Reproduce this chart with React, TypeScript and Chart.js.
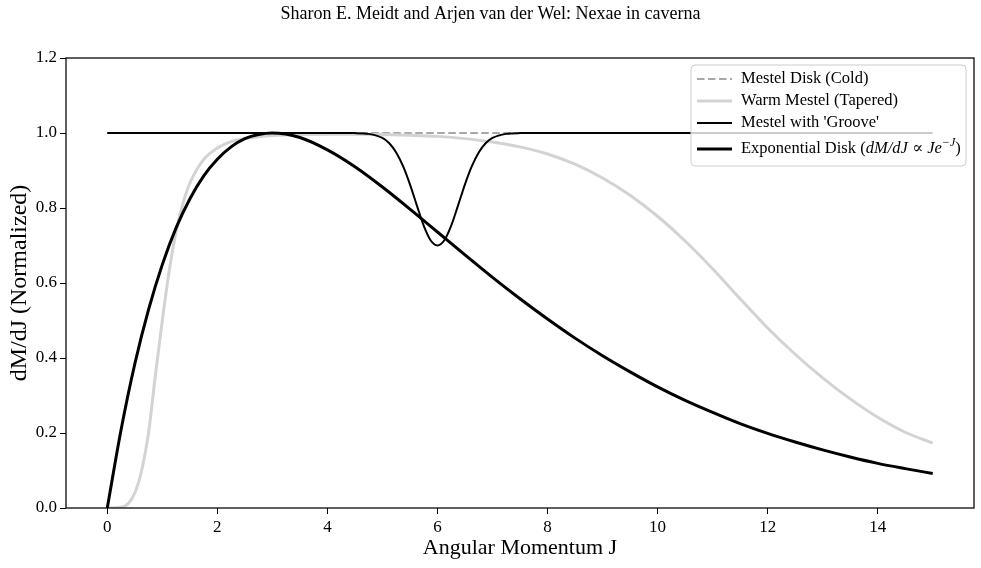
import { useEffect, useRef } from 'react';
import { Chart, registerables } from 'chart.js';

Chart.register(...registerables);

const SERIF = "'Liberation Serif', 'DejaVu Serif', 'Times New Roman', serif";

const TITLE = 'Sharon E. Meidt and Arjen van der Wel: Nexae in caverna';
const X_LABEL = 'Angular Momentum J';
const Y_LABEL = 'dM/dJ (Normalized)';
const LEGEND_LABELS = ['Mestel Disk (Cold)', 'Warm Mestel (Tapered)', "Mestel with 'Groove'", 'Exponential Disk'];
const X_TICK_LABELS = ['0', '2', '4', '6', '8', '10', '12', '14'];
const Y_TICK_LABELS = ['0.0', '0.2', '0.4', '0.6', '0.8', '1.0', '1.2'];

// Mestel Disk (Cold)
const coldJ = [0, 15];
const coldY = [1, 1];

// Warm Mestel (Tapered)
const warmJ = [0, 0.25, 0.375, 0.5, 0.625, 0.75, 0.875, 1, 1.125, 1.25, 1.375, 1.5, 1.75, 2, 2.25, 2.5, 2.75, 3, 3.5, 4, 4.5, 5, 5.5, 6, 6.5, 7, 7.5, 8, 8.5, 9, 9.5, 10, 10.5, 11, 11.5, 12, 12.5, 13, 13.5, 14, 14.5, 15];
const warmY = [0, 0.002, 0.011, 0.04, 0.1, 0.2, 0.355, 0.5, 0.632, 0.736, 0.812, 0.866, 0.929, 0.96, 0.977, 0.985, 0.99, 0.993, 0.996, 0.997, 0.997, 0.996, 0.994, 0.991, 0.985, 0.976, 0.963, 0.944, 0.917, 0.88, 0.834, 0.778, 0.712, 0.638, 0.558, 0.48, 0.41, 0.347, 0.291, 0.242, 0.202, 0.173];

// Mestel with 'Groove'
const grooveJ = [0, 4, 4.5, 4.75, 5, 5.125, 5.25, 5.375, 5.5, 5.625, 5.75, 5.875, 6, 6.125, 6.25, 6.375, 6.5, 6.625, 6.75, 6.875, 7, 7.25, 7.5, 8, 15];
const grooveY = [1, 1, 0.9997, 0.9977, 0.9868, 0.9726, 0.948, 0.9115, 0.863, 0.807, 0.753, 0.714, 0.7, 0.714, 0.753, 0.807, 0.863, 0.9115, 0.948, 0.9726, 0.9868, 0.9977, 0.9997, 1, 1];

// Exponential Disk
const expJ = [0, 0.25, 0.5, 0.75, 1, 1.25, 1.5, 1.75, 2, 2.25, 2.5, 2.75, 3, 3.5, 4, 4.5, 5, 5.5, 6, 6.5, 7, 7.5, 8, 8.5, 9, 9.5, 10, 10.5, 11, 11.5, 12, 12.5, 13, 13.5, 14, 14.5, 15];
const expY = [0, 0.208, 0.384, 0.529, 0.649, 0.747, 0.824, 0.885, 0.93, 0.963, 0.985, 0.996, 1.0, 0.988, 0.955, 0.91, 0.856, 0.797, 0.736, 0.675, 0.615, 0.558, 0.504, 0.453, 0.406, 0.363, 0.323, 0.287, 0.255, 0.225, 0.199, 0.176, 0.155, 0.136, 0.119, 0.105, 0.092];

const STYLES = [
  { color: '#a8a8a8', width: 2, dash: [7.5, 3.5] },
  { color: '#d3d3d3', width: 3, dash: [] as number[] },
  { color: '#000000', width: 2, dash: [] as number[] },
  { color: '#000000', width: 3, dash: [] as number[] },
];

const LEG_FONT = 16.5;

const pts = (xs: number[], ys: number[]) => xs.map((x, i) => ({ x, y: ys[i] }));

const framePlugin = {
  id: 'frameAndLegend',
  afterDraw(chart: any) {
    const ctx: CanvasRenderingContext2D = chart.ctx;
    const a = chart.chartArea;
    ctx.save();
    // axes frame
    ctx.strokeStyle = '#000';
    ctx.lineWidth = 1.25;
    ctx.setLineDash([]);
    ctx.strokeRect(a.left, a.top, a.right - a.left, a.bottom - a.top);

    // page title
    ctx.fillStyle = '#000';
    ctx.font = `18px ${SERIF}`;
    ctx.textAlign = 'center';
    ctx.textBaseline = 'middle';
    ctx.fillText(TITLE, chart.width / 2, 14);

    // legend box
    const bx = a.right - 283;
    const by = a.top + 7;
    const bw = 275;
    const bh = 101;
    const r = 4;
    ctx.beginPath();
    ctx.moveTo(bx + r, by);
    ctx.lineTo(bx + bw - r, by);
    ctx.arcTo(bx + bw, by, bx + bw, by + r, r);
    ctx.lineTo(bx + bw, by + bh - r);
    ctx.arcTo(bx + bw, by + bh, bx + bw - r, by + bh, r);
    ctx.lineTo(bx + r, by + bh);
    ctx.arcTo(bx, by + bh, bx, by + bh - r, r);
    ctx.lineTo(bx, by + r);
    ctx.arcTo(bx, by, bx + r, by, r);
    ctx.closePath();
    ctx.fillStyle = 'rgba(255,255,255,0.8)';
    ctx.fill();
    ctx.strokeStyle = '#cccccc';
    ctx.lineWidth = 1;
    ctx.stroke();

    const rowOffsets = [14, 36, 58, 84];
    const hx0 = bx + 6;
    const hx1 = bx + 41;
    const tx = bx + 50;
    ctx.textAlign = 'left';
    ctx.textBaseline = 'middle';
    LEGEND_LABELS.forEach((label, i) => {
      const y = by + rowOffsets[i];
      const s = STYLES[i];
      ctx.beginPath();
      ctx.strokeStyle = s.color;
      ctx.lineWidth = s.width;
      ctx.setLineDash(s.dash);
      ctx.moveTo(hx0, y);
      ctx.lineTo(hx1, y);
      ctx.stroke();
      ctx.setLineDash([]);
      ctx.fillStyle = '#000';
      ctx.font = `${LEG_FONT}px ${SERIF}`;
      if (i < 3) {
        ctx.fillText(label, tx, y);
      } else {
        let x = tx;
        const draw = (t: string, font: string, dy = 0) => {
          ctx.font = font;
          ctx.fillText(t, x, y + dy);
          x += ctx.measureText(t).width;
        };
        draw(label + ' (', `${LEG_FONT}px ${SERIF}`);
        draw('dM/dJ', `italic ${LEG_FONT}px ${SERIF}`);
        draw(' \u221D ', `${LEG_FONT}px ${SERIF}`);
        draw('Je', `italic ${LEG_FONT}px ${SERIF}`);
        draw('\u2212J', `italic 12px ${SERIF}`, -6);
        draw(')', `${LEG_FONT}px ${SERIF}`);
      }
    });
    ctx.restore();
  },
};

export default function App() {
  const ref = useRef<HTMLCanvasElement>(null);

  useEffect(() => {
    const canvas = ref.current;
    if (!canvas) return;
    const mk = (label: string, xs: number[], ys: number[], i: number, order: number) => ({
      label,
      data: pts(xs, ys),
      borderColor: STYLES[i].color,
      borderWidth: STYLES[i].width,
      borderDash: STYLES[i].dash,
      pointRadius: 0,
      fill: false,
      cubicInterpolationMode: 'monotone' as const,
      order,
    });
    const chart = new Chart(canvas, {
      type: 'line',
      data: {
        datasets: [
          mk(LEGEND_LABELS[0], coldJ, coldY, 0, 4),
          mk(LEGEND_LABELS[1], warmJ, warmY, 1, 3),
          mk(LEGEND_LABELS[2], grooveJ, grooveY, 2, 2),
          mk(LEGEND_LABELS[3], expJ, expY, 3, 1),
        ],
      },
      options: {
        animation: false,
        responsive: false,
        devicePixelRatio: 1,
        layout: { padding: { top: 58, right: 7, left: 0, bottom: 0 } },
        plugins: {
          legend: { display: false },
          tooltip: { enabled: false },
          title: { display: false },
        },
        scales: {
          x: {
            type: 'linear',
            min: -0.75,
            max: 15.75,
            afterFit: (s: any) => {
              s.height = 60;
            },
            border: { display: false },
            grid: { display: true, drawOnChartArea: false, drawTicks: true, tickLength: 6, color: '#000', lineWidth: 1 },
            ticks: {
              stepSize: 2,
              includeBounds: false,
              padding: 3,
              color: '#000',
              font: { family: SERIF, size: 17 },
              maxRotation: 0,
              callback: (v: any) => {
                const idx = X_TICK_LABELS.indexOf(String(Math.round(Number(v))));
                return idx >= 0 ? X_TICK_LABELS[idx] : '';
              },
            },
            title: {
              display: true,
              text: X_LABEL,
              color: '#000',
              font: { family: SERIF, size: 22 },
              padding: { top: 0, bottom: 7 },
            },
          },
          y: {
            type: 'linear',
            min: 0,
            max: 1.2,
            afterFit: (s: any) => {
              s.width = 66;
            },
            border: { display: false },
            grid: { display: true, drawOnChartArea: false, drawTicks: true, tickLength: 6, color: '#000', lineWidth: 1 },
            ticks: {
              stepSize: 0.2,
              padding: 3,
              color: '#000',
              font: { family: SERIF, size: 17 },
              callback: (v: any) => Y_TICK_LABELS[Math.round(Number(v) * 5)] ?? '',
            },
            title: {
              display: true,
              text: Y_LABEL,
              color: '#000',
              font: { family: SERIF, size: 24 },
              padding: { top: 5, bottom: 0 },
            },
          },
        },
      },
      plugins: [framePlugin],
    });
    return () => chart.destroy();
  }, []);

  return (
    <div style={{ position: 'fixed', left: 0, top: 0, width: 981, height: 568, background: '#fff' }}>
      <canvas ref={ref} width={981} height={568} style={{ display: 'block' }} />
    </div>
  );
}
